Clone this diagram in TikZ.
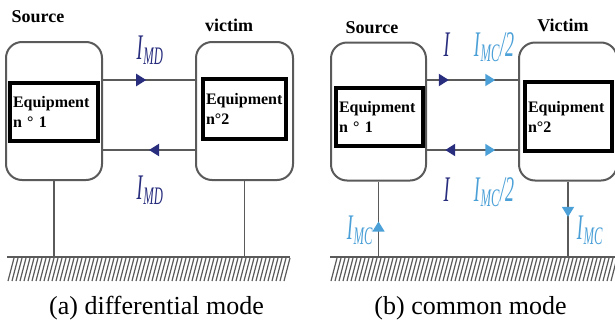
\documentclass[tikz,border=0pt]{standalone}
\usepackage{fontspec}
\setmainfont{Liberation Serif}
\usepackage{graphicx}
\usetikzlibrary{arrows.meta}
\usetikzlibrary{positioning}
\usetikzlibrary{decorations.markings}
\definecolor{mddark}{RGB}{40,45,125}
\definecolor{mclight}{RGB}{75,160,215}
\definecolor{wiregray}{RGB}{90,90,90}
\newcommand{\curlab}[2]{\scalebox{0.5}[1]{\textit{#1}\textsubscript{\textit{#2}}}}

\begin{document}
\begin{tikzpicture}[x=0.5pt,y=-0.5pt,
  unit/.style={draw=wiregray,line width=1pt,rounded corners=8pt,minimum width=48pt,minimum height=69pt},
  eqbox/.style={draw,line width=1.6pt,align=left,inner xsep=1.5pt,font=\fontsize{8}{10}\selectfont\bfseries},
  tag/.style={font=\fontsize{9}{10}\selectfont\bfseries},
  lab/.style={font=\fontsize{18}{18}\selectfont,inner sep=0pt},
  wire/.style={draw=wiregray,line width=1pt},
  post/.style={draw=wiregray,line width=0.6pt},
  earth/.style={draw=wiregray,line width=1.3pt},
  hatch/.style={draw=wiregray,line width=0.6pt},
  tipfwd/.style 2 args={postaction={decorate,decoration={markings,mark=at position #1 with {\arrow{Triangle[length=5pt,width=6pt,color=#2]}}}}},
  tipback/.style 2 args={postaction={decorate,decoration={markings,mark=at position #1 with {\arrowreversed{Triangle[length=5pt,width=6pt,color=#2]}}}}}]
  \useasboundingbox (0,0) rectangle (615,327);

  % (a) differential mode
  \node[unit] (srcA) at (54,111) {};
  \node[eqbox,text width=41pt,minimum height=29pt] (eqA1) at (54,112) {Equipment\\n ° 1};
  \node[unit,minimum width=48.5pt] (vicA) at (244.5,111) {};
  \node[eqbox,text width=38.5pt,minimum height=30pt] (eqA2) at (244.5,109) {Equipment\\n°2};
  \node[tag] (tsA) at (38,17) {Source};
  \node[tag] (tvA) at (229,25) {victim};

  \draw[wire,tipfwd={0.47}{mddark}] ([yshift=15.5pt]srcA.east) -- ([yshift=15.5pt]vicA.west);
  \draw[wire,tipback={0.5}{mddark}] ([yshift=-19.5pt]srcA.east) -- ([yshift=-19.5pt]vicA.west);
  \node[lab,text=mddark] (imdA1) at (150,50) {\curlab{I}{MD}};
  \node[lab,text=mddark] (imdA2) at (150,190) {\curlab{I}{MD}};

  \coordinate (gndA) at (7,257);
  \coordinate (gndAe) at (290,257);
  \draw[post] (srcA.south) -- (srcA.south |- gndA);
  \draw[post] (vicA.south) -- (vicA.south |- gndA);
  \draw[earth] (gndA) -- (gndAe);
  \foreach \x in {8,12,...,284} \draw[hatch] (\x,281) -- ++(6,-23);

  \node[font=\fontsize{13}{14}\selectfont] (capA) at (156.5,308) {(a) differential mode};

  % (b) common mode
  \node[unit,minimum width=47.5pt] (srcB) at (378.5,111.5) {};
  \node[eqbox,text width=40.5pt,minimum height=29pt] (eqB1) at (379.5,117) {Equipment\\n ° 1};
  \node[unit,minimum width=49pt] (vicB) at (568,111.5) {};
  \node[eqbox,text width=40.5pt,minimum height=34.5pt] (eqB2) at (568.5,116.5) {Equipment\\n°2};
  \node[tag] (tsB) at (372,28) {Source};
  \node[tag] (tvB) at (563,25) {Victim};

  \draw[wire,tipfwd={0.24}{mddark},tipfwd={0.75}{mclight}] ([yshift=15.75pt]srcB.east) -- ([yshift=15.75pt]vicB.west);
  \draw[wire,tipback={0.2}{mddark},tipfwd={0.75}{mclight}] ([yshift=-19.25pt]srcB.east) -- ([yshift=-19.25pt]vicB.west);
  \node[lab,text=mddark] (iB1) at (447,45) {\scalebox{0.5}[1]{\textit{I}}};
  \node[lab,text=mclight] (imcB1) at (494,47) {\scalebox{0.5}[1]{\textit{I}\textsubscript{\textit{MC}}\textit{/2}}};
  \node[lab,text=mddark] (iB2) at (447,190) {\scalebox{0.5}[1]{\textit{I}}};
  \node[lab,text=mclight] (imcB2) at (494,192) {\scalebox{0.5}[1]{\textit{I}\textsubscript{\textit{MC}}\textit{/2}}};

  \coordinate (gndB) at (330,257);
  \coordinate (gndBe) at (620,257);
  \draw[post,tipfwd={0.47}{mclight}] (srcB.south |- gndB) -- (srcB.south);
  \draw[post,tipfwd={0.47}{mclight}] (vicB.south) -- (vicB.south |- gndB);
  \node[lab,text=mclight] (imcB3) at (360,230) {\curlab{I}{MC}};
  \node[lab,text=mclight] (imcB4) at (590,230) {\curlab{I}{MC}};
  \draw[earth] (gndB) -- (gndBe);
  \foreach \x in {331,335,...,611} \draw[hatch] (\x,281) -- ++(6,-23);

  \node[font=\fontsize{13}{14}\selectfont] (capB) at (470.5,308) {(b) common mode};
\end{tikzpicture}
\end{document}
